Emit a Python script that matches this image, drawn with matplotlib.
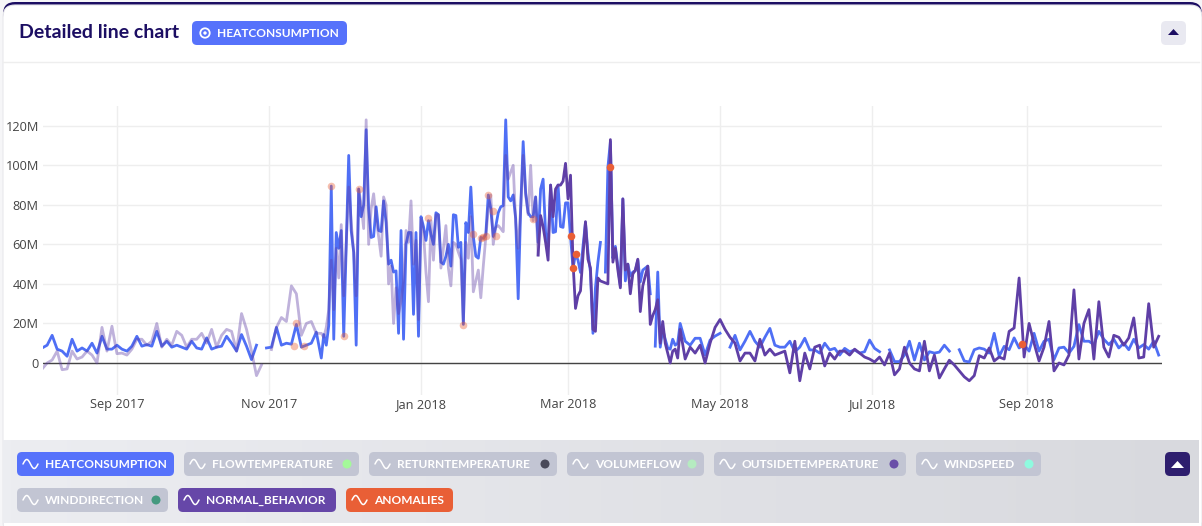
import numpy as np
import pandas as pd
import matplotlib
matplotlib.use("Agg")
import matplotlib.pyplot as plt
import matplotlib.dates as mdates
from matplotlib.patches import FancyBboxPatch, Circle, Polygon
from matplotlib.ticker import FuncFormatter

nan = float("nan")

# values in millions, two day steps except the winter block which is daily
heat_autumn = [7.6, 9, 14, 7, 6, 3.4, 12, 6, 7.6, 6, 10, 5, 13.5, 7, 7, 9, 7, 6, 8.5, 13.5,
               8.5, 9.3, 8.5, 16, 8.5, 11, 8, 9, 8, 7, 11, 7.6, 7, 12.7, 7, 8, 8.5, 13.5, 10, 6,
               14.4, 8.5, 1.7, 9, nan, 7.6, 8, 18, 9, 10, 9.5, 19.5, 8, 9, 10, 15.6]
heat_winter = [2.5, 14.4, 9, 19, 89.5, 12, 66, 58, 67, 13.5, 60, 105, 67, 56, 9, 88, 74, 80, 118, 78,
               63.5, 64, 79, 67, 66.5, 82, 71, 50, 52, 46, 46.6, 15, 67, 12, 60, 66, 66, 24.6, 66, 13.5,
               74, 69, 62, 72, 65, 60, 76, 75, 51, 50, 54, 60, 49, 75, 74.6, 58.5, 61, 19.5, 71, 66,
               89, 64, 54, 53, 63.5, 63, 65, 85,
               78, 64, 69, 76, 79, 79.6, 123, 84, 82, 85, 73, 32.5, 78, 112, 86, 76, 74, 74, 84, 61,
               88, 93, 66, 59, 90, 66, 66.4, 90, 69, 68.6, 81, 81, 64, 48, 55, 52, 45.8, 59, 71, 56,
               46, 15, 38, 51, 61, nan, 46, 99, 112, 53, 59, 49, 39, 83, 41.5, 50, 44, 46, 46.6, 52,
               41, 47, 48, 49, 35, nan, 8.5, 46, 8, 17, 12, 7.6, 7, 12, 9, 10]
heat_summer = [20, 11, 9, 12.5, 12.5, 4, 11.6, 13.6, 15, nan, 8, 14, 6.6, 11, 16, 11, 8, 13, 17.5, 9,
               8, 8, 11, 5.7, 8, 12.5, 6.6, 6.6, 5, 10, 6.6, 7.4, 4, 7.4, 5.7, 6.6, 5, 5.7, 11.6, 7.4,
               5.7, nan, 6.6, 0.7, 0.7, 4, 11, 1.5, 10, 1.5, 5.7,
               5, 5.5, 9, 6, nan, 6.7, 1, 0.5, 6.7, 7.6, 7, 5, 15, 3.4, 8.4, 6.7, 12.7, 7.6, 9.3, 6,
               15, 6, 11, 12, 1.7, 7.6, 8, 5, 8.4, 19.4, 11, 11, 9.3, 16, 12, 9.3, 12, 7.6, 10, 6.7,
               12, 7.6, 9.3, 7, 11, 4]

normal_autumn = [-3, 0, 1.5, 6, -3.4, -3, 6, 2, 3, 6, 4, 0, 18, 6, 18.6, 4.7, 5, 4, 7, 12,
                 12, 9, 11, 20, 8, 12, 9, 16, 14, 8, 12, 12, 15, 10, 17, 8, 14, 17, 16, 6,
                 25, 17, 6, -6.4, -1, nan, 6.8, 18, 23, 21, 39, 35, 14, 20, 21, 15]
normal_winter = [15, 13, 18, 27, 52, 27, 58, 43, 70, 34, 60, 89, 71, 56, 34, 88, 80, 68, 123, 60,
                 78, 85.6, 73, 64, 54, 84, 80, 40, 49, 20, 38, 25, 31, 41, 67, 61, 82, 50, 62, 22,
                 73, 66, 46, 31, 72, 52, 75, 75, 48, 58, 69.5, 48, 39, 61, 60, 56, 52.5, 20, 61, 53,
                 74, 36, 41.5, 47, 33, 49, 63.5, 78,
                 85, 60, 68.6, 69.5, 68, 66.4, 105, 93, 96.6, 100, 71, 58, 78, 105, 85, 75, 100, 72, 84, 54.6,
                 74.6, 69, 61, 52, 90, 74, 88, 90, 90, 92, 101, 83, 95, 51, 27.6, 34, 36.5, 54, 71.5, 52.5,
                 48, 17, 16, 43, 41.5, 41, 40.5, 40, 113, 51, 58, 47, 38, 83, 47, 50, 35, 45, 47, 52.5,
                 26, 39, 44, 49, 19.5, 24, 27, 32, 10, 21, 10, 5, 0, 6, 7, 2.5]
normal_summer = [17, 2, 8, 5, 9, 0, 10, 18, 22, 17, 13, 10, 1, 5, 5, 1, 12, 4, 7, 4,
                 5, 6, -5, 11, -9, 5, -3, 8, 9, -1.5, 5, 2, 6, 6, 4, 7, 5, 3, 2, 0.5,
                 3, -1, 5, -6, -3, 8, 0, -3, -4, 11, -4,
                 4, -7.6, -3, 1.4, -1, -4, -7, -9, -6.4, 3.7, 2.5, 7.6, 1, 3, 2, 16, 17.7, 43, 3, 20,
                 10, 1, 8, 21, -4, 0, -1, 4, 37, 2, 20, 27, 2, 31, 8, 3, 14, 13, 9, 12.7,
                 22.8, 2.5, 3, 30, 8, 13.5]

anomaly_dates = ["2017-11-11", "2017-11-12", "2017-11-15", "2017-11-26", "2017-12-01", "2017-12-07",
                 "2018-01-04", "2018-01-18", "2018-01-22", "2018-01-25", "2018-01-26", "2018-01-27",
                 "2018-01-28", "2018-01-30", "2018-01-31", "2018-02-15",
                 "2018-03-02", "2018-03-03", "2018-03-04", "2018-03-18", "2018-08-30"]
anomaly_values = [8.8, 20, 8.8, 89.5, 13.5, 88, 73.4, 19, 65, 63.4, 63.5, 64, 85, 77, 64, 73,
                  64, 48, 55, 99, 9.8]

y_ticks = [0, 20, 40, 60, 80, 100, 120]
x_ticks = ["2017-09-01", "2017-11-01", "2018-01-01", "2018-03-01", "2018-05-01", "2018-07-01", "2018-09-01"]

legend_row1 = [("HEATCONSUMPTION", 17, 174, "#5672fb", None),
               ("FLOWTEMPERATURE", 184, 359, "#c2c5d3", "#a4f99a"),
               ("RETURNTEMPERATURE", 369, 557, "#c2c5d3", "#4a4a5a"),
               ("VOLUMEFLOW", 567, 704, "#c2c5d3", "#b5ebc0"),
               ("OUTSIDETEMPERATURE", 714, 906, "#c2c5d3", "#6a4ea8"),
               ("WINDSPEED", 916, 1041, "#c2c5d3", "#8ffadf")]
legend_row2 = [("WINDDIRECTION", 17, 168, "#c2c5d3", "#44997f"),
               ("NORMAL_BEHAVIOR", 178, 336, "#6647a8", None),
               ("ANOMALIES", 346, 453, "#e95f36", None)]

W, H = 1202, 526
NAVY = "#1c0e63"
UI_FONT = ["Lato", "DejaVu Sans"]


def series(autumn, winter, summer):
    # stitch the three blocks on a shared date axis
    a = pd.Series(autumn, index=pd.date_range("2017-08-02", periods=len(autumn), freq="2D"))
    b = pd.Series(winter, index=pd.date_range("2017-11-22", periods=len(winter), freq="D"))
    c = pd.Series(summer, index=pd.date_range("2018-04-15", periods=len(summer), freq="2D"))
    return pd.concat([a, b, c]) * 1e6


def chip(ax, x0, x1, y0, y1, color, radius=5, z=3):
    ax.add_patch(FancyBboxPatch((x0 + radius, y0 + radius), x1 - x0 - 2 * radius, y1 - y0 - 2 * radius,
                                boxstyle="round,pad=%d,rounding_size=%d" % (radius, radius),
                                fc=color, ec="none", zorder=z))


def wave_icon(ax, x, y):
    t = np.linspace(0, 2 * np.pi, 40)
    ax.plot(x + t / (2 * np.pi) * 15, y - np.sin(t) * 4.5, color="white", lw=1.1, zorder=5,
            solid_capstyle="round")


def legend_chip(ax, item, y0):
    name, x0, x1, color, dot = item
    chip(ax, x0, x1, y0, y0 + 24, color)
    wave_icon(ax, x0 + 6, y0 + 12)
    ax.text(x0 + 28, y0 + 12.5, name, color="white", fontsize=8.6, fontweight="bold",
            family=UI_FONT, va="center", ha="left", zorder=5)
    if dot:
        ax.add_patch(Circle((x1 - 12, y0 + 12), 4.5, fc=dot, ec="none", zorder=5))


fig = plt.figure(figsize=(W / 100, H / 100), dpi=100, facecolor="#f6f6f8")

# page furniture is drawn in pixel coordinates on a full figure axes
bg = fig.add_axes([0, 0, 1, 1])
bg.set_xlim(0, W)
bg.set_ylim(H, 0)
bg.axis("off")

top = FancyBboxPatch((15, 14), W - 12 - 15, H - 20, boxstyle="round,pad=12,rounding_size=12",
                     fc=NAVY, ec="none", zorder=1)
bg.add_patch(top)
card = FancyBboxPatch((15, 17), W - 12 - 15, H - 21, boxstyle="round,pad=12,rounding_size=12",
                      fc="white", ec="#e8e8ec", lw=0.8, zorder=1.1)
bg.add_patch(card)
bg.plot([3, W - 3], [61.5, 61.5], color="#eeeeee", lw=1, zorder=1.2)

grad = np.linspace(0, 1, 300).reshape(1, -1)
foot = bg.imshow(grad, extent=[3, W - 3, 523, 440], aspect="auto", zorder=1.2,
                 cmap=matplotlib.colors.LinearSegmentedColormap.from_list("foot", ["#ecedf1", "#d8d9de"]))
foot.set_clip_path(card)
bg.set_xlim(0, W)
bg.set_ylim(H, 0)

bg.text(19, 32, "Detailed line chart", color=NAVY, fontsize=14, fontweight="bold",
        family=UI_FONT, va="center", ha="left", zorder=5)
chip(bg, 192, 347, 21, 45, "#5672fb")
bg.add_patch(Circle((205, 33), 4.7, fc="none", ec="white", lw=1.3, zorder=5))
bg.add_patch(Circle((205, 33), 1.7, fc="white", ec="none", zorder=5))
bg.text(217, 33.5, "HEATCONSUMPTION", color="white", fontsize=8.6, fontweight="bold",
        family=UI_FONT, va="center", ha="left", zorder=5)

chip(bg, 1161, 1186, 21, 45, "#e9e9f1")
bg.add_patch(Polygon([[1168, 35], [1179, 35], [1173.5, 29]], fc=NAVY, ec="none", zorder=5))
chip(bg, 1165, 1190, 452, 476, "#2e1e6e")
bg.add_patch(Polygon([[1171, 468], [1184, 468], [1177.5, 461]], fc="white", ec="none", zorder=5))

for item in legend_row1:
    legend_chip(bg, item, 452)
for item in legend_row2:
    legend_chip(bg, item, 488)

# the chart itself
ax_left, ax_right, ax_top, ax_bottom = 43, 1162, 106, 395
ax = fig.add_axes([ax_left / W, 1 - ax_bottom / H, (ax_right - ax_left) / W, (ax_bottom - ax_top) / H])
ax.patch.set_alpha(0)

heat = series(heat_autumn, heat_winter, heat_summer)
normal = series(normal_autumn, normal_winter, normal_summer)
split = pd.Timestamp("2018-02-17")

BLUE = "#4f6ff5"
PURPLE = "#5f3fa6"
ORANGE = "#e95f36"

ax.plot(heat.index, heat.values, color=BLUE, lw=2, zorder=3)
ax.plot(normal[normal.index <= split].index, normal[normal.index <= split].values,
        color=PURPLE, lw=2, alpha=0.4, zorder=4)
ax.plot(normal[normal.index >= split].index, normal[normal.index >= split].values,
        color=PURPLE, lw=2, zorder=4)

an_x = pd.to_datetime(anomaly_dates)
an_y = np.array(anomaly_values) * 1e6
past = an_x < split
ax.scatter(an_x[past], an_y[past], s=30, color=ORANGE, alpha=0.4, linewidths=0, zorder=5)
ax.scatter(an_x[~past], an_y[~past], s=30, color=ORANGE, linewidths=0, zorder=5)

ax.set_xlim(pd.Timestamp("2017-08-02 08:00"), pd.Timestamp("2018-10-25 08:00"))
ax.set_ylim(-16.2e6, 130e6)
ax.set_yticks([v * 1e6 for v in y_ticks])
ax.yaxis.set_major_formatter(FuncFormatter(lambda v, p: "0" if v == 0 else "%dM" % (v / 1e6)))
ax.set_xticks(pd.to_datetime(x_ticks))
ax.xaxis.set_major_formatter(mdates.DateFormatter("%b %Y"))
ax.tick_params(length=0, labelsize=9.2, labelcolor="#444444", pad=3)
ax.tick_params(axis="x", pad=2)
for lab in ax.get_xticklabels() + ax.get_yticklabels():
    lab.set_family(["Open Sans", "DejaVu Sans"])
ax.grid(True, color="#eeeeee", lw=1)
ax.set_axisbelow(True)
ax.axhline(0, color="#444444", lw=1, zorder=2)
for s in ax.spines.values():
    s.set_visible(False)

fig.savefig("out.png", dpi=100, facecolor=fig.get_facecolor())
